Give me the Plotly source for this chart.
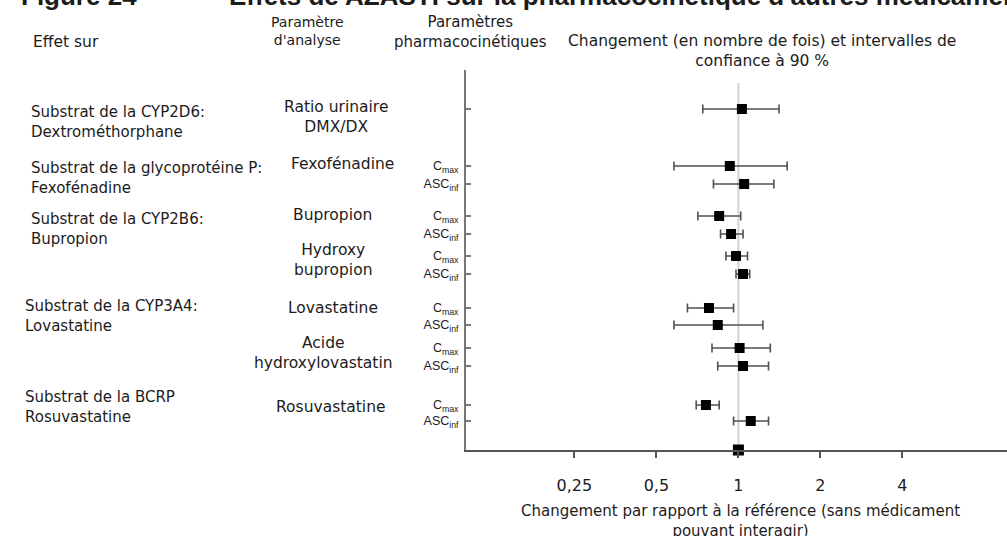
import plotly.graph_objects as go

# ---------------- data ----------------
params = ["", "C<sub>max</sub>", "ASC<sub>inf</sub>", "C<sub>max</sub>", "ASC<sub>inf</sub>",
          "C<sub>max</sub>", "ASC<sub>inf</sub>", "C<sub>max</sub>", "ASC<sub>inf</sub>",
          "C<sub>max</sub>", "ASC<sub>inf</sub>", "C<sub>max</sub>", "ASC<sub>inf</sub>"]
ratio = [1.03, 0.93, 1.05, 0.85, 0.94, 0.98, 1.04, 0.78, 0.84, 1.01, 1.04, 0.76, 1.11]
ci_low = [0.74, 0.58, 0.81, 0.71, 0.86, 0.90, 0.98, 0.65, 0.58, 0.80, 0.84, 0.70, 0.96]
ci_high = [1.41, 1.51, 1.35, 1.02, 1.04, 1.08, 1.10, 0.96, 1.23, 1.31, 1.29, 0.85, 1.29]
reference_value = [1.0]
x_tick_vals = [0.25, 0.5, 1, 2, 4]
x_tick_text = ["0,25", "0,5", "1", "2", "4"]

effet_labels = ["Substrat de la CYP2D6:<br>Dextrométhorphane",
                "Substrat de la glycoprotéine P:<br>Fexofénadine",
                "Substrat de la CYP2B6:<br>Bupropion",
                "Substrat de la CYP3A4:<br>Lovastatine",
                "Substrat de la BCRP<br>Rosuvastatine"]
analyse_labels = ["Ratio urinaire<br>DMX/DX", "Fexofénadine", "Bupropion",
                  "Hydroxy<br>bupropion", "Lovastatine", "Acide<br>hydroxylovastatin",
                  "Rosuvastatine"]

# ---------------- layout (pixel rows of the forest plot) ----------------
row_y = [109, 166, 184, 216, 234, 256, 274, 308, 325, 348, 366, 405, 421]
W, H = 1007, 536
L, T, B = 466, 70, 86
plot_w = W - L
plot_h = H - T - B
axis_y = H - B
decade_px = 272.4

def px(x, y):
    return (x - L) / plot_w, (H - B - y) / plot_h

fig = go.Figure()

fig.add_shape(type="line", xref="x", yref="y", x0=1, x1=1, y0=83, y1=axis_y,
              line=dict(color="#d2d2d2", width=2), layer="below")

fig.add_trace(go.Scatter(
    x=ratio, y=row_y, mode="markers",
    marker=dict(symbol="square", size=10, color="black"),
    error_x=dict(type="data", symmetric=False,
                 array=[h - r for h, r in zip(ci_high, ratio)],
                 arrayminus=[r - l for r, l in zip(ratio, ci_low)],
                 color="#505050", thickness=1.6, width=4.5),
    showlegend=False, cliponaxis=False, hoverinfo="skip"))

fig.add_trace(go.Scatter(
    x=reference_value, y=[axis_y], mode="markers",
    marker=dict(symbol="square", size=11, color="black"),
    showlegend=False, cliponaxis=False, hoverinfo="skip"))

txt = "#1c1c1c"
main_font = "DejaVu Sans, Liberation Sans, Arial"
head_font = "Liberation Sans, Arial"
ann = []

def add(text, x, y, size=14, family=main_font, xanchor="left", align="left", bold=False):
    xp, yp = px(x, y)
    ann.append(dict(text=("<b>%s</b>" % text) if bold else text, x=xp, y=yp,
                    xref="paper", yref="paper", xanchor=xanchor, yanchor="middle",
                    align=align, showarrow=False,
                    font=dict(size=size, family=family, color=txt)))

# title (cut at top)
add("Figure 24", 19, -4, size=26, family=head_font, bold=True)
add("Effets de AZASTI sur la pharmacocinétique d'autres médicaments", 227, -4, size=26,
    family=head_font, bold=True)

# headers
add("Effet sur", 31, 42, size=15.5)
add("Paramètre<br>d'analyse", 307, 31, size=14, xanchor="center", align="center")
add("Paramètres<br>pharmacocinétiques", 470, 32, size=15, xanchor="center", align="center")
add("Changement (en nombre de fois) et intervalles de<br>confiance à 90 %", 762, 51, size=15.5,
    xanchor="center", align="center")

# effect column
effet_pos = [(29, 122), (29, 178), (29, 229), (23, 316), (23, 407)]
for t, (x, y) in zip(effet_labels, effet_pos):
    add(t, x, y, size=15)

# analysis parameter column
analyse_pos = [(336, 117), (342, 164), (332, 215), (333, 260), (333, 308), (323, 353), (331, 407)]
for t, (x, y) in zip(analyse_labels, analyse_pos):
    add(t, x, y, size=15.5, xanchor="center", align="center")

# x-axis title
add("Changement par rapport à la référence (sans médicament<br>pouvant interagir)", 740, 521,
    size=15, xanchor="center", align="center")

fig.update_layout(
    width=W, height=H, margin=dict(l=L, r=0, t=T, b=B, pad=0),
    paper_bgcolor="white", plot_bgcolor="white",
    annotations=ann,
    xaxis=dict(type="log", range=[-1, -1 + plot_w / decade_px], autorange=False,
               tickvals=x_tick_vals, ticktext=x_tick_text,
               showgrid=False, zeroline=False, showline=True, linecolor="#555555", linewidth=2,
               ticks="outside", ticklen=6, tickwidth=2, tickcolor="#555555",
               ticklabelstandoff=14,
               tickfont=dict(size=16, family=main_font, color=txt)),
    yaxis=dict(range=[axis_y, T], autorange=False, tickvals=row_y, ticktext=params,
               showgrid=False, zeroline=False, showline=True, linecolor="#777777", linewidth=2,
               ticks="inside", ticklen=5, tickwidth=1.5, tickcolor="#777777",
               ticklabelstandoff=3,
               tickfont=dict(size=12.5, family="Liberation Sans, Arial", color=txt)),
)

fig.write_html("out.html", config={"displayModeBar": False},
               post_script="document.body.style.margin='0px';document.body.style.overflow='hidden';")
